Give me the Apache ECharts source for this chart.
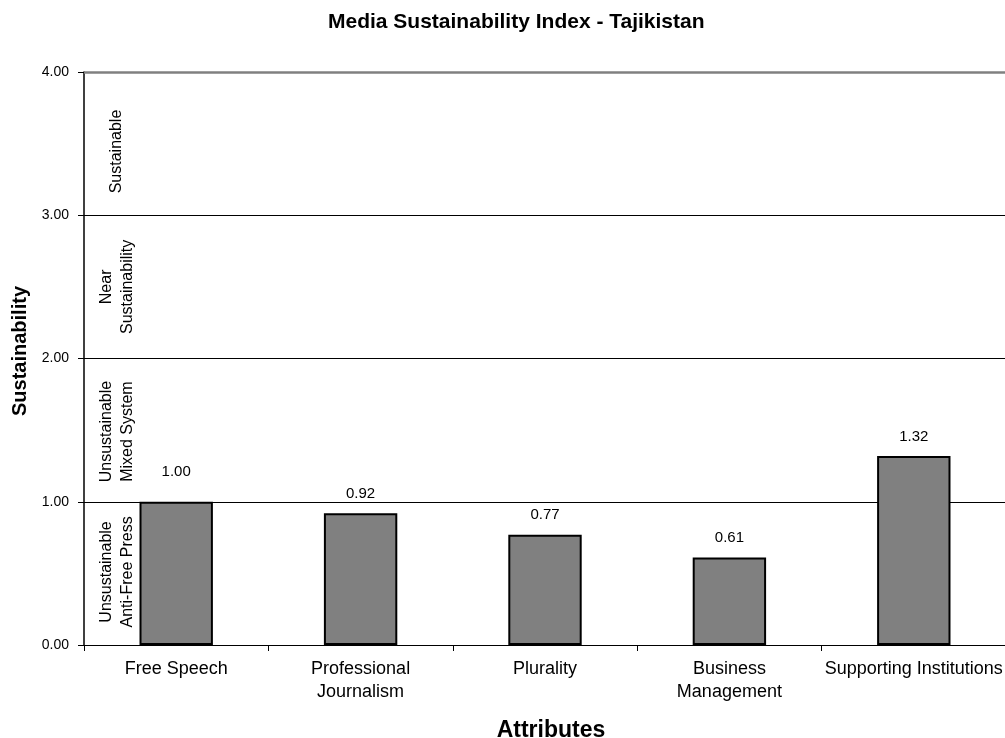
<!DOCTYPE html>
<html>
<head>
<meta charset="utf-8">
<script src="https://cdn.jsdelivr.net/npm/echarts@6/dist/echarts.min.js"></script>
<style>
  html, body { margin: 0; padding: 0; background: #fff; }
  #chart { width: 1005px; height: 738px; }
</style>
</head>
<body>
<div id="chart"></div>
<script>
// Attribute scores for the index
const categories = ['Free Speech', 'Professional\nJournalism', 'Plurality', 'Business\nManagement', 'Supporting Institutions'];
const scores = [1.00, 0.92, 0.77, 0.61, 1.32];
const yTicks = [0, 1, 2, 3, 4];
// Qualitative bands along the vertical scale: [band midpoint, label]
const bandMids = [3.445, 2.5, 1.49, 0.51];
const bandLabels = ['Sustainable', 'Near\nSustainability', 'Unsustainable\nMixed System', 'Unsustainable\nAnti-Free Press'];

const FONT = 'Liberation Sans, Arial, sans-serif';
const GRID_LEFT = 84;
const chart = echarts.init(document.getElementById('chart'), null, { renderer: 'canvas' });

// The first label is lifted so it clears the 1.00 gridline
const barData = scores.map((v, i) => ({
  value: v,
  label: i === 0 ? { offset: [0, -10] } : undefined
}));

chart.setOption({
  animation: false,
  backgroundColor: '#fff',
  title: {
    text: 'Media Sustainability Index - Tajikistan',
    left: 323,
    top: 7,
    textStyle: { fontFamily: FONT, fontSize: 21, fontWeight: 'bold', color: '#000' }
  },
  grid: { left: GRID_LEFT, right: -1, top: 72, bottom: 93, containLabel: false, outerBoundsMode: 'none' },
  xAxis: {
    type: 'category',
    data: categories,
    name: 'Attributes',
    nameLocation: 'middle',
    nameGap: 74,
    nameTextStyle: { fontFamily: FONT, fontSize: 23, fontWeight: 'bold', color: '#000', padding: [0, 0, 0, 12] },
    axisLine: { lineStyle: { color: '#000', width: 1 } },
    axisTick: { show: true, alignWithLabel: false, length: 6, lineStyle: { color: '#000' } },
    axisLabel: { fontFamily: FONT, fontSize: 18, color: '#000', margin: 13, lineHeight: 23, interval: 0 }
  },
  yAxis: {
    type: 'value',
    min: yTicks[0],
    max: yTicks[yTicks.length - 1],
    interval: 1,
    name: 'Sustainability',
    nameLocation: 'middle',
    nameGap: 52,
    nameTextStyle: { fontFamily: FONT, fontSize: 20, fontWeight: 'bold', color: '#000', padding: [0, 0, 0, 15] },
    axisLine: { show: true, lineStyle: { color: '#000', width: 1.5 } },
    axisTick: { show: true, length: 6, lineStyle: { color: '#000' } },
    axisLabel: { fontFamily: FONT, fontSize: 14, color: '#000', margin: 15, formatter: v => v.toFixed(2) },
    splitLine: { show: true, lineStyle: { color: ['#000', '#000', '#000', '#000', '#808080'], width: 1 } }
  },
  series: [{
    type: 'bar',
    data: barData,
    barWidth: '39.8%',
    itemStyle: { color: '#808080', borderColor: '#000', borderWidth: 2 },
    label: {
      show: true,
      position: 'top',
      distance: 12,
      fontFamily: FONT,
      fontSize: 15,
      color: '#000',
      formatter: p => p.value.toFixed(2)
    },
    markLine: {
      silent: true,
      symbol: 'none',
      label: { show: false },
      lineStyle: { color: '#808080', width: 2.5, type: 'solid' },
      data: [{ yAxis: yTicks[yTicks.length - 1] }]
    }
  }]
});

// Rotated band captions inside the plot, placed from the y scale
function placeBandLabels() {
  const x = GRID_LEFT + 33;
  const elements = bandMids.map((mid, i) => {
    const y = chart.convertToPixel({ yAxisIndex: 0 }, mid);
    return {
      type: 'text',
      x: x,
      y: y,
      rotation: Math.PI / 2,
      silent: true,
      style: {
        text: bandLabels[i],
        fontFamily: FONT,
        fontSize: 16,
        lineHeight: 21.5,
        fill: '#000',
        align: 'center',
        verticalAlign: 'middle'
      }
    };
  });
  chart.setOption({ graphic: elements });
}
placeBandLabels();
</script>
</body>
</html>
